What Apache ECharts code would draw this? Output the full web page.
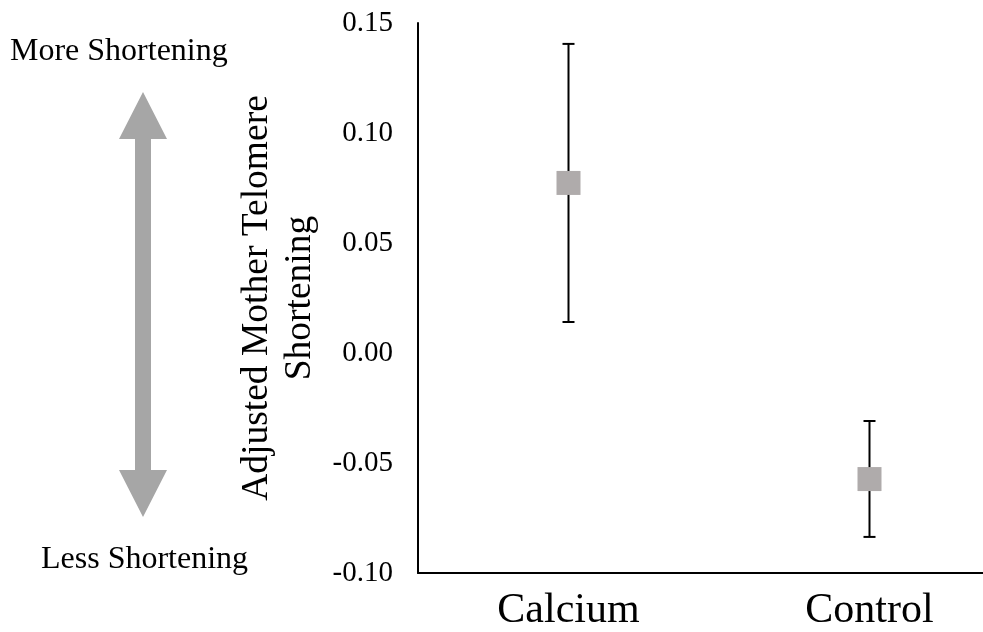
<!DOCTYPE html>
<html>
<head>
<meta charset="utf-8">
<script src="https://cdn.jsdelivr.net/npm/echarts@6/dist/echarts.min.js"></script>
<style>html,body{margin:0;padding:0;background:#fff}#main{width:983px;height:632px}</style>
</head>
<body>
<div id="main"></div>
<script>
const categories = ['Calcium', 'Control'];
const means = [0.0773, -0.0573];
const upper = [0.1405, -0.0309];
const lower = [0.0141, -0.0836];
const yTicks = [-0.10, -0.05, 0.00, 0.05, 0.10, 0.15];
const yTitle = 'Adjusted Mother Telomere\nShortening';
const topNote = 'More Shortening';
const bottomNote = 'Less Shortening';

const FONT = "'Liberation Serif', 'Times New Roman', serif";
const chart = echarts.init(document.getElementById('main'), null, {renderer: 'canvas'});

const errData = categories.map((c, i) => [i, lower[i], upper[i]]);
const ARROW = '#a6a6a6';

chart.setOption({
  animation: false,
  backgroundColor: '#fff',
  grid: {left: 418, right: -37, top: 23, bottom: 59, containLabel: false, outerBoundsMode: 'none'},
  xAxis: {
    type: 'category',
    data: categories,
    boundaryGap: true,
    axisLine: {show: true, onZero: false, lineStyle: {color: '#000', width: 2}},
    axisTick: {show: false},
    axisLabel: {color: '#000', fontFamily: FONT, fontSize: 42, margin: 17},
    splitLine: {show: false}
  },
  yAxis: {
    type: 'value',
    min: yTicks[0],
    max: yTicks[yTicks.length - 1],
    interval: 0.05,
    name: yTitle,
    nameLocation: 'middle',
    nameRotate: 90,
    nameGap: 92,
    nameTextStyle: {color: '#000', fontFamily: FONT, fontSize: 37.5, lineHeight: 43, align: 'center'},
    axisLine: {show: true, onZero: false, lineStyle: {color: '#000', width: 2}},
    axisTick: {show: false},
    splitLine: {show: false},
    axisLabel: {color: '#000', fontFamily: FONT, fontSize: 29, margin: 25,
      formatter: v => (Math.abs(v) < 1e-9 ? 0 : v).toFixed(2)}
  },
  series: [
    {
      type: 'custom',
      z: 2,
      data: errData,
      renderItem: function (params, api) {
        const x = api.value(0);
        const lo = api.coord([x, api.value(1)]);
        const hi = api.coord([x, api.value(2)]);
        const cap = 6;
        const st = {stroke: '#000', lineWidth: 2};
        return {
          type: 'group',
          children: [
            {type: 'line', shape: {x1: lo[0], y1: lo[1], x2: hi[0], y2: hi[1]}, style: st},
            {type: 'line', shape: {x1: lo[0] - cap, y1: lo[1], x2: lo[0] + cap, y2: lo[1]}, style: st},
            {type: 'line', shape: {x1: hi[0] - cap, y1: hi[1], x2: hi[0] + cap, y2: hi[1]}, style: st}
          ]
        };
      }
    },
    {
      type: 'scatter',
      z: 3,
      symbol: 'rect',
      symbolSize: 24,
      itemStyle: {color: '#afabab', opacity: 1},
      data: means.map((v, i) => [i, v])
    }
  ],
  graphic: [
    {type: 'text', left: 10, top: 36, style: {text: topNote, font: '32px ' + FONT, fill: '#000'}},
    {type: 'text', left: 41, top: 544, style: {text: bottomNote, font: '32px ' + FONT, fill: '#000'}},
    {type: 'polygon', shape: {points: [[143, 92], [167, 139], [151, 139], [151, 470], [167, 470], [143, 517], [119, 470], [135, 470], [135, 139], [119, 139]]}, style: {fill: ARROW}}
  ]
});
</script>
</body>
</html>
